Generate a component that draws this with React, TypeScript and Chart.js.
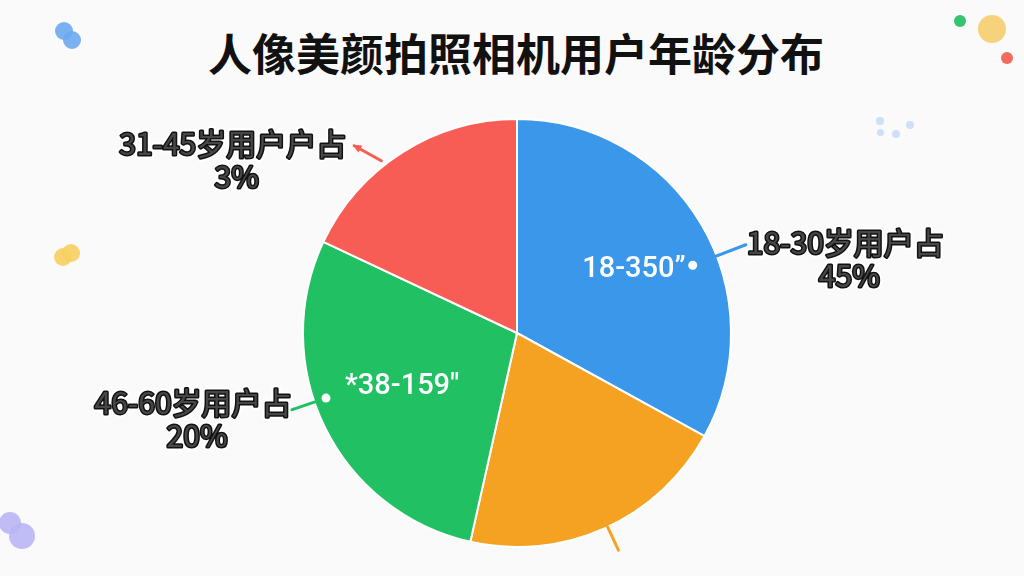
import React, { useEffect, useRef } from 'react';
import { Chart, registerables } from 'chart.js';

Chart.register(...registerables);

// slices, clockwise from 12 o'clock
const sliceLabels = ['18-30岁', '其他', '46-60岁', '31-45岁'];
const sliceValues = [33, 20.5, 28.5, 18];
const sliceColors = ['#3a97ea', '#f5a122', '#21c063', '#f75d55'];
const outerLine1 = ['18-30岁用户占', '', '46-60岁用户占', '31-45岁用户户占'];
const outerLine2 = ['45%', '', '20%', '3%'];
const innerTexts = ['18-350”', '', '*38-159"', ''];

const TITLE = '人像美颜拍照相机用户年龄分布';
const CJK = '"Noto Sans CJK SC", "Noto Sans", sans-serif';

// leader line placement per slice: fraction along the arc, start/end radius (x outerRadius),
// optional fixed outer segment (ox, oy) instead of radial end
const leaders = [
  { f: 0.58, r0: 0.88, r1: 1.146, ox: 0, oy: 0, dot: true, arrow: false, side: 'right', dx: 1, dy: -2 },
  { f: 0.49, r0: 1.0, r1: 1.12, ox: 0, oy: 0, dot: false, arrow: false, side: 'none', dx: 0, dy: 0 },
  { f: 0.571, r0: 0.943, r1: 1.113, ox: 0, oy: 0, dot: true, arrow: false, side: 'left', dx: 0, dy: -7 },
  { f: 0.41, r0: 1.025, r1: 0, ox: -27, oy: -15, dot: false, arrow: true, side: 'left', dx: -8, dy: -2 },
];

function outlined(ctx: CanvasRenderingContext2D, text: string, x: number, y: number) {
  ctx.lineJoin = 'round';
  ctx.strokeStyle = '#ffffff';
  ctx.lineWidth = 7;
  ctx.strokeText(text, x, y);
  ctx.strokeStyle = '#111111';
  ctx.lineWidth = 3;
  ctx.strokeText(text, x, y);
  ctx.fillStyle = '#474747';
  ctx.fillText(text, x, y);
}

const labelPlugin = {
  id: 'pieLabels',
  afterDatasetsDraw(chart: any) {
    const ctx: CanvasRenderingContext2D = chart.ctx;
    const meta = chart.getDatasetMeta(0);
    meta.data.forEach((arc: any, i: number) => {
      const { x, y, startAngle, endAngle, outerRadius } = arc.getProps(
        ['x', 'y', 'startAngle', 'endAngle', 'outerRadius'], true);
      const L = leaders[i];
      const a = startAngle + L.f * (endAngle - startAngle);
      const cos = Math.cos(a), sin = Math.sin(a);
      const p0 = { x: x + cos * outerRadius * L.r0, y: y + sin * outerRadius * L.r0 };
      const p1 = L.r1
        ? { x: x + cos * outerRadius * L.r1, y: y + sin * outerRadius * L.r1 }
        : { x: p0.x + L.ox, y: p0.y + L.oy };

      ctx.save();
      ctx.strokeStyle = sliceColors[i];
      ctx.lineWidth = 3;
      ctx.lineCap = 'round';
      ctx.beginPath();
      ctx.moveTo(p0.x, p0.y);
      ctx.lineTo(p1.x, p1.y);
      ctx.stroke();
      if (L.arrow) {
        const len = Math.hypot(p1.x - p0.x, p1.y - p0.y);
        const ux = (p1.x - p0.x) / len, uy = (p1.y - p0.y) / len;
        ctx.fillStyle = sliceColors[i];
        ctx.beginPath();
        ctx.moveTo(p1.x + ux * 2, p1.y + uy * 2);
        ctx.lineTo(p1.x - ux * 7 - uy * 4, p1.y - uy * 7 + ux * 4);
        ctx.lineTo(p1.x - ux * 7 + uy * 4, p1.y - uy * 7 - ux * 4);
        ctx.closePath();
        ctx.fill();
      }
      if (L.dot) {
        ctx.fillStyle = '#ffffff';
        ctx.beginPath();
        ctx.arc(p0.x, p0.y, 4.5, 0, Math.PI * 2);
        ctx.fill();
      }

      // inner white text
      if (innerTexts[i]) {
        ctx.font = '500 29px Roboto, "Noto Sans", sans-serif';
        ctx.fillStyle = '#ffffff';
        ctx.textBaseline = 'middle';
        if (L.side === 'right') {
          ctx.textAlign = 'right';
          ctx.fillText(innerTexts[i], p0.x - 7, p0.y + 5);
        } else {
          ctx.textAlign = 'left';
          ctx.fillText(innerTexts[i], p0.x + 19, p0.y - 11);
        }
      }

      // outer outlined label
      if (outerLine1[i]) {
        ctx.font = '400 30px ' + CJK;
        ctx.textBaseline = 'middle';
        ctx.textAlign = 'center';
        const w = ctx.measureText(outerLine1[i]).width;
        const cx = L.side === 'right' ? p1.x + L.dx + w / 2 : p1.x + L.dx - w / 2;
        const ty = p1.y + L.dy;
        outlined(ctx, outerLine1[i], cx, ty);
        outlined(ctx, outerLine2[i], cx + 4, ty + 33);
      }
      ctx.restore();
    });
  },
};

const dots: { x: number; y: number; r: number; c: string }[] = [
  { x: 64, y: 31, r: 9, c: '#6aa8f0' },
  { x: 72, y: 40, r: 9, c: '#6aa8f0' },
  { x: 63, y: 257, r: 9, c: '#f7cf62' },
  { x: 71, y: 253, r: 9, c: '#f7cf62' },
  { x: 10, y: 523, r: 11, c: '#b9b5f5' },
  { x: 22, y: 536, r: 13, c: '#b9b5f5' },
  { x: 960, y: 21, r: 6, c: '#1fbf62' },
  { x: 992, y: 29, r: 14, c: '#f6cd6e' },
  { x: 1007, y: 58, r: 6, c: '#f25a4e' },
  { x: 880, y: 121, r: 4, c: '#c9dbf7' },
  { x: 880, y: 132, r: 3.5, c: '#c9dbf7' },
  { x: 896, y: 134, r: 4, c: '#c9dbf7' },
  { x: 910, y: 125, r: 4, c: '#c9dbf7' },
];

export default function App() {
  const canvasRef = useRef<HTMLCanvasElement>(null);
  const chartRef = useRef<Chart | null>(null);

  useEffect(() => {
    if (!canvasRef.current) return;
    if (chartRef.current) chartRef.current.destroy();

    chartRef.current = new Chart(canvasRef.current, {
      type: 'pie',
      data: {
        labels: sliceLabels,
        datasets: [{
          data: sliceValues,
          backgroundColor: sliceColors,
          borderColor: '#ffffff',
          borderWidth: 2,
        }],
      },
      options: {
        animation: false,
        responsive: true,
        maintainAspectRatio: false,
        layout: { padding: { top: 118, bottom: 28, left: 296, right: 286 } },
        plugins: {
          legend: { display: false },
          tooltip: { enabled: false },
        },
      },
      plugins: [labelPlugin],
    } as any);

    return () => { if (chartRef.current) chartRef.current.destroy(); chartRef.current = null; };
  }, []);

  return (
    <div style={{ position: 'fixed', left: 0, top: 0, width: 1024, height: 576, background: '#fafafa', overflow: 'hidden' }}>
      {dots.map((d, i) => (
        <div key={i} style={{
          position: 'absolute', left: d.x - d.r, top: d.y - d.r, width: d.r * 2, height: d.r * 2,
          borderRadius: '50%', background: d.c, opacity: 0.9,
        }} />
      ))}
      <div style={{
        position: 'absolute', left: 0, top: 26, width: 1032, textAlign: 'center',
        fontFamily: CJK, fontWeight: 700, fontSize: 44, lineHeight: '52px', color: '#111',
      }}>{TITLE}</div>
      <div style={{ position: 'absolute', left: 0, top: 0, width: 1024, height: 576 }}>
        <canvas ref={canvasRef} />
      </div>
    </div>
  );
}
